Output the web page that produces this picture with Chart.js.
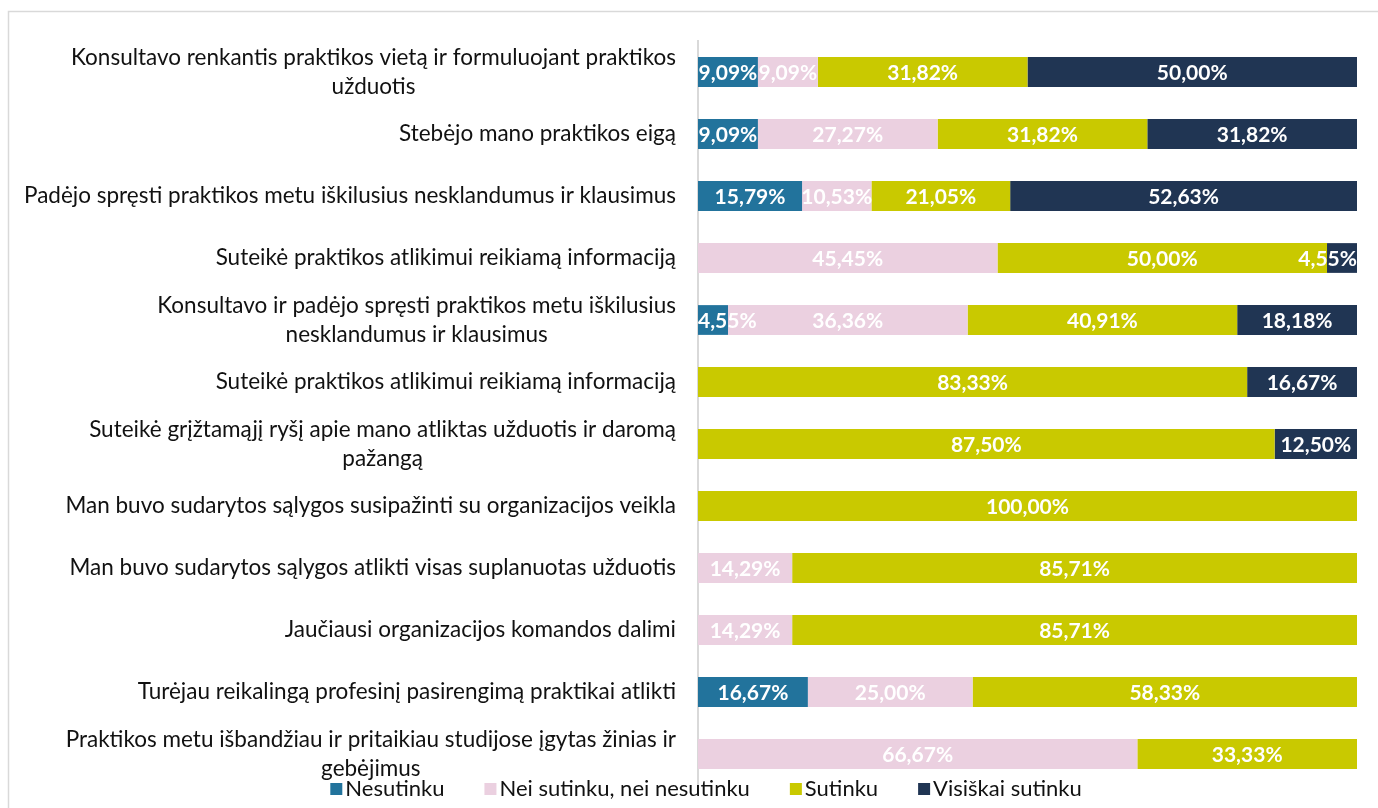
<!DOCTYPE html>
<html>
<head>
<meta charset="utf-8">
<script src="https://cdn.jsdelivr.net/npm/chart.js@4"></script>
<style>
  html, body { margin: 0; padding: 0; background: #fff; }
</style>
</head>
<body>
<canvas id="chart" width="1378" height="808"></canvas>
<script>
var categories = [
    ["Konsultavo renkantis praktikos vietą ir formuluojant praktikos", "užduotis"],
    ["Stebėjo mano praktikos eigą"],
    ["Padėjo spręsti praktikos metu iškilusius nesklandumus ir klausimus"],
    ["Suteikė praktikos atlikimui reikiamą informaciją"],
    ["Konsultavo ir padėjo spręsti praktikos metu iškilusius", "nesklandumus ir klausimus"],
    ["Suteikė praktikos atlikimui reikiamą informaciją"],
    ["Suteikė grįžtamąjį ryšį apie mano atliktas užduotis ir daromą", "pažangą"],
    ["Man buvo sudarytos sąlygos susipažinti su organizacijos veikla"],
    ["Man buvo sudarytos sąlygos atlikti visas suplanuotas užduotis"],
    ["Jaučiausi organizacijos komandos dalimi"],
    ["Turėjau reikalingą profesinį pasirengimą praktikai atlikti"],
    ["Praktikos metu išbandžiau ir pritaikiau studijose įgytas žinias ir", "gebėjimus"]
]

var seriesNames = ["Nesutinku", "Nei sutinku, nei nesutinku", "Sutinku", "Visiškai sutinku"]
var nesutinku   = [9.09, 9.09, 15.79, 0, 4.55, 0, 0, 0, 0, 0, 16.67, 0]
var neiSutinku  = [9.09, 27.27, 10.53, 45.45, 36.36, 0, 0, 0, 14.29, 14.29, 25.00, 66.67]
var sutinku     = [31.82, 31.82, 21.05, 50.00, 40.91, 83.33, 87.50, 100.00, 85.71, 85.71, 58.33, 33.33]
var visiskai    = [50.00, 31.82, 52.63, 4.55, 18.18, 16.67, 12.50, 0, 0, 0, 0, 0]
var colors = ["#22739C", "#EBD0E0", "#C9C900", "#203553"]

var FONT = 'Lato, "Open Sans", sans-serif'

var drawPlugin = {
    id: 'drawPlugin',
    beforeDraw: (chart) => {
        var c = chart.ctx
        c.save()
        c.strokeStyle = "#d9d9d9"
        c.lineWidth = 1.5
        c.beginPath()
        c.moveTo(8.5, chart.height + 5)
        c.lineTo(8.5, 11.5)
        c.lineTo(chart.width + 5, 11.5)
        c.stroke()
        c.restore()
    },
    afterDatasetsDraw: (chart) => {
        var c = chart.ctx
        var area = chart.chartArea
        c.save()
        c.font = "bold 21px " + FONT
        c.fillStyle = "#ffffff"
        c.textAlign = "center"
        c.textBaseline = "middle"
        chart.data.datasets.forEach((ds, i) => {
            chart.getDatasetMeta(i).data.forEach((bar, j) => {
                var v = ds.data[j]
                if (!v) return
                var txt = v.toFixed(2).replace('.', ',') + '%'
                var w = c.measureText(txt).width
                var x = (bar.x + bar.base) / 2
                if (x - w / 2 < area.left) x = area.left + w / 2
                if (x + w / 2 > area.right) x = area.right - w / 2
                c.fillText(txt, x, bar.y + 1)
            })
        })
        c.restore()
    },
    afterDraw: (chart) => {
        var c = chart.ctx
        var yScale = chart.scales.y
        c.save()
        // category labels, lines centred inside a right-aligned block
        c.font = "22.5px " + FONT
        c.fillStyle = "#111111"
        c.textAlign = "center"
        c.textBaseline = "middle"
        var rightEdge = chart.chartArea.left - 22
        var lineH = 29
        chart.data.labels.forEach((lines, j) => {
            var yc = yScale.getPixelForTick(j)
            var bw = Math.max.apply(null, lines.map(l => c.measureText(l).width))
            var cx = rightEdge - bw / 2
            var y0 = yc - (lines.length - 1) * lineH / 2
            lines.forEach((l, k) => c.fillText(l, cx, y0 + k * lineH))
        })
        // legend
        c.font = "22px " + FONT
        c.textAlign = "left"
        var box = 12, gap = 3, spacing = 40
        var widths = chart.data.datasets.map(ds => box + gap + c.measureText(ds.label).width)
        var total = widths.reduce((a, b) => a + b, 0) + spacing * (widths.length - 1)
        var x = 706 - total / 2
        var ly = 789
        chart.data.datasets.forEach((ds, i) => {
            c.fillStyle = ds.backgroundColor
            c.fillRect(x, ly - box / 2, box, box)
            c.fillStyle = "#111111"
            c.fillText(ds.label, x + box + gap, ly)
            x += widths[i] + spacing
        })
        c.restore()
    }
}

var ctx = document.getElementById("chart").getContext('2d')

var config = {
    type: 'bar',
    data: {
        labels: categories,
        datasets: [
            { label: seriesNames[0], data: nesutinku, backgroundColor: colors[0] },
            { label: seriesNames[1], data: neiSutinku, backgroundColor: colors[1] },
            { label: seriesNames[2], data: sutinku, backgroundColor: colors[2] },
            { label: seriesNames[3], data: visiskai, backgroundColor: colors[3] }
        ]
    },
    options: {
        indexAxis: 'y',
        responsive: false,
        animation: false,
        devicePixelRatio: 1,
        layout: { padding: { left: 698, right: 21, top: 41, bottom: 23 } },
        datasets: { bar: { barPercentage: 0.48, categoryPercentage: 1, borderWidth: 0 } },
        plugins: {
            legend: { display: false },
            tooltip: { enabled: false }
        },
        scales: {
            x: { stacked: true, min: 0, max: 100, display: false },
            y: {
                stacked: true,
                ticks: { display: false },
                grid: { display: false, drawTicks: false },
                border: { display: true, color: "#d9d9d9", width: 2 }
            }
        }
    },
    plugins: [drawPlugin]
}

var barChart = new Chart(ctx, config)
</script>
</body>
</html>
